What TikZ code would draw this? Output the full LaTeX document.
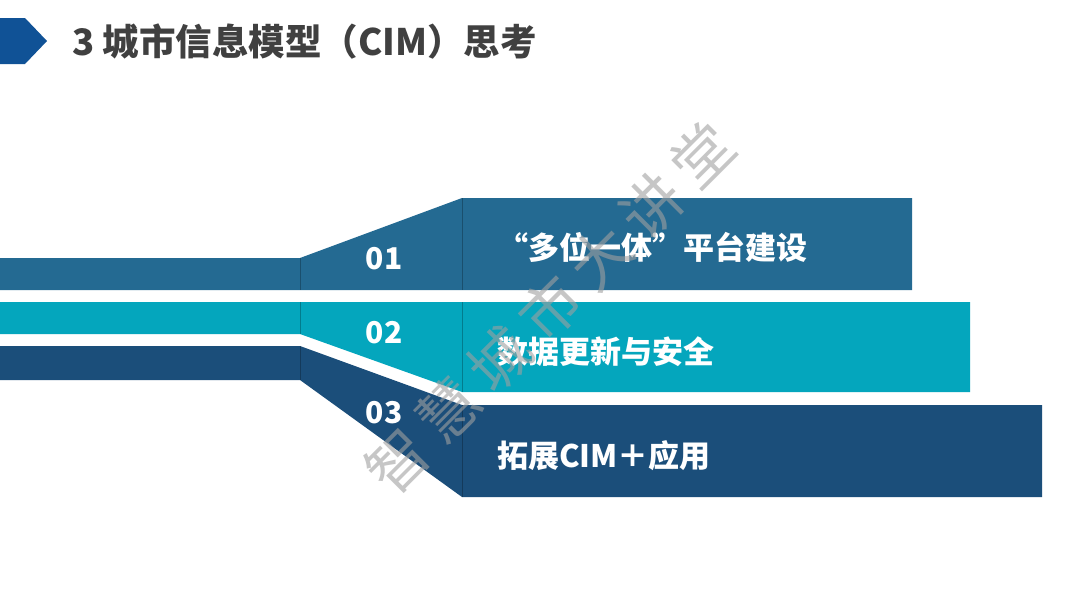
\documentclass[tikz,border=0pt]{standalone}
\usepackage{fontspec}
\newfontfamily\cjk{Noto Sans CJK SC}
\definecolor{headblue}{RGB}{16,82,150}
\definecolor{titlegrey}{RGB}{64,64,64}
\definecolor{bandA}{RGB}{36,106,146}
\definecolor{bandB}{RGB}{4,166,189}
\definecolor{bandC}{RGB}{27,78,122}
\definecolor{wmgrey}{RGB}{160,160,160}
\tikzset{
  numlabel/.style={text=white,font=\cjk\bfseries\fontsize{30}{30}\selectfont,anchor=center,inner sep=0},
  itemlabel/.style={text=white,font=\cjk\bfseries\fontsize{31}{31}\selectfont,anchor=west,inner sep=0},
  seam/.style={line width=0.8pt,draw opacity=0.25,black}
}
\begin{document}
\begin{tikzpicture}[x=1pt,y=-1pt]
\useasboundingbox (0,0) rectangle (1080,608);
\fill[white] (0,0) rectangle (1080,608);
% header marker
\fill[headblue] (0,18) -- (25,18) -- (47,41) -- (25,64) -- (0,64) -- cycle;
\node[anchor=west,inner sep=0,text=titlegrey,font=\cjk\bfseries\fontsize{36.5}{36.5}\selectfont] (title) at (72,42) {3 城市信息模型（CIM）思考};
% band 1
\fill[bandA] (0,258) -- (300,258) -- (462,198) -- (912,198) -- (912,290) -- (0,290) -- cycle;
% band 2
\fill[bandB] (0,302) -- (970,302) -- (970,392) -- (462,392) -- (300,334) -- (0,334) -- cycle;
% band 3
\fill[bandC] (0,346) -- (300,346) -- (462,405) -- (1042,405) -- (1042,497) -- (462,497) -- (300,380) -- (0,380) -- cycle;
% seams
\draw[seam] (300,258) -- (300,290);
\draw[seam] (462,198) -- (462,290);
\draw[seam] (300,302) -- (300,334);
\draw[seam] (462,302) -- (462,392);
\draw[seam] (300,346) -- (300,380);
\draw[seam] (462,405) -- (462,497);
% numbers
\node[numlabel] (n1) at (384,259) {01};
\node[numlabel] (n2) at (384,333) {02};
\node[numlabel] (n3) at (384,413) {03};
% item texts
\node[itemlabel] (t1) at (497,247) {“多位一体”平台建设};
\node[itemlabel] (t2) at (497,352) {数据更新与安全};
\node[itemlabel] (t3) at (497,456) {拓展CIM＋应用};
% watermark
\node[rotate=45,text=wmgrey,text opacity=0.6,font=\cjk\fontsize{60}{60}\selectfont,inner sep=0] (wm) at (550,308) {智\hspace{12pt}慧\hspace{12pt}城\hspace{12pt}市\hspace{12pt}大\hspace{12pt}讲\hspace{12pt}堂};
\end{tikzpicture}
\end{document}
